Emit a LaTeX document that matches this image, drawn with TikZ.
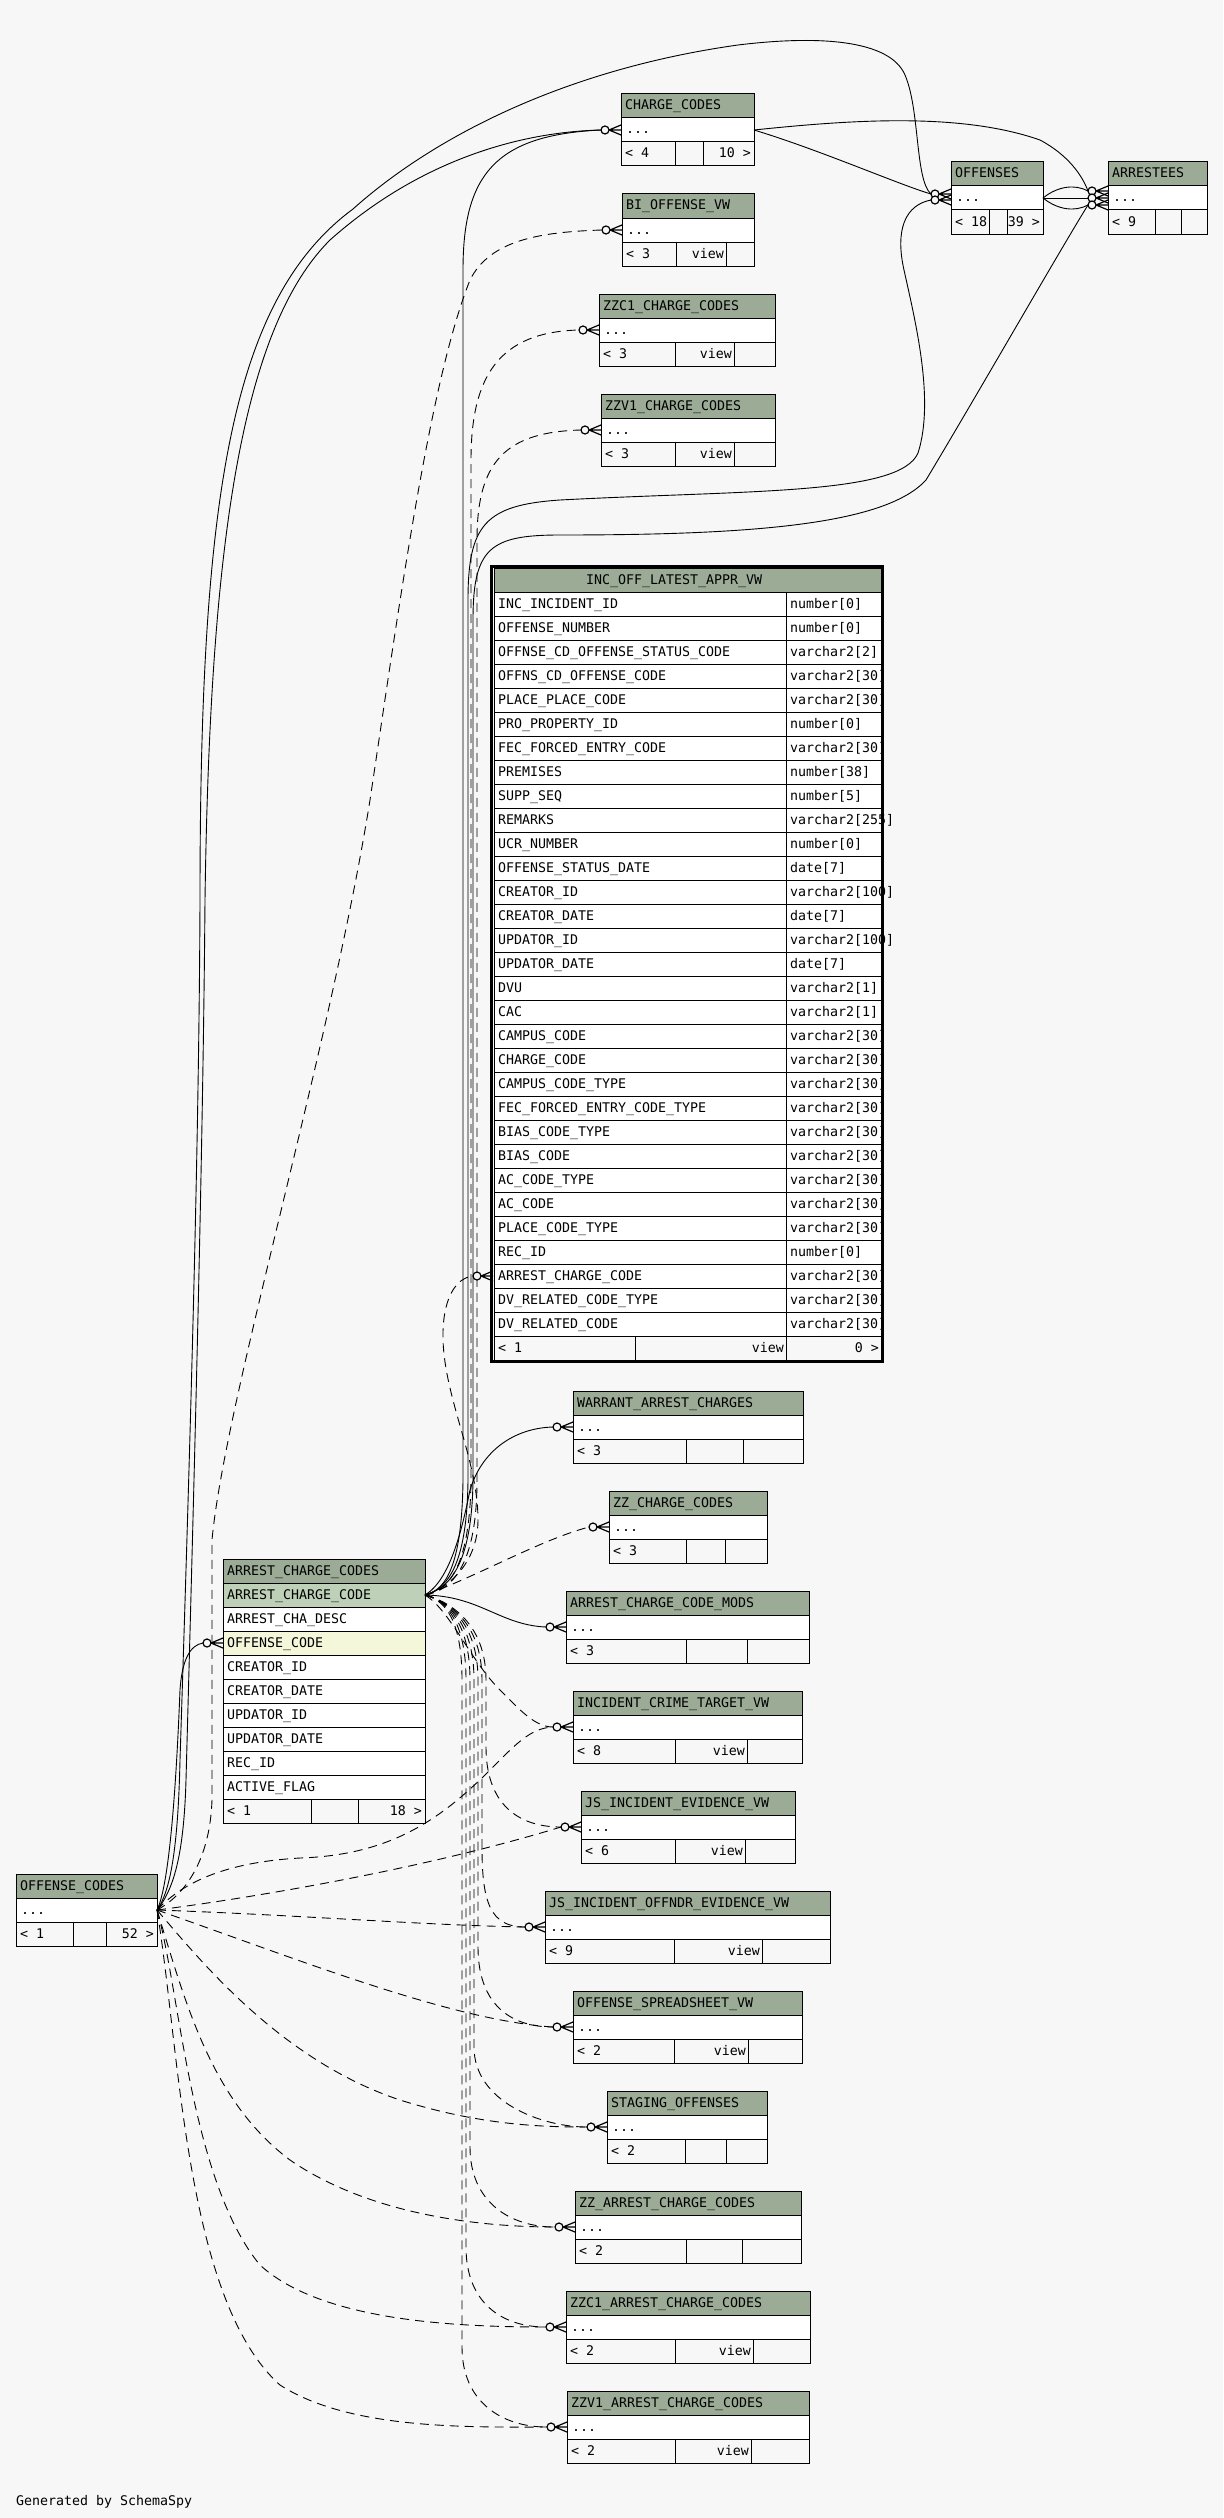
\documentclass[tikz,border=0pt]{standalone}
\usepackage{fontspec}
\newfontfamily\monof{DejaVu Sans Mono}
\definecolor{hdrc}{HTML}{9BAB96}
\definecolor{pkc}{HTML}{BED1B8}
\definecolor{exc}{HTML}{F4F7DA}
\definecolor{bgc}{HTML}{F7F7F7}
% simple table: #1 x1, #2 y1, #3 x2, #4 title, #5 split1, #6 split2, #7 count, #8 mid text, #9 id
\newcommand\stbl[9]{%
  \fill[hdrc] (#1,#2) rectangle (#3,#2+24);
  \fill[white] (#1,#2+24) rectangle (#3,#2+48);
  \fill[bgc] (#1,#2+48) rectangle (#3,#2+72);
  \draw[tb] (#1,#2) rectangle (#3,#2+72);
  \draw[tb] (#1,#2+24) -- (#3,#2+24) (#1,#2+48) -- (#3,#2+48)
            (#5,#2+48) -- (#5,#2+72) (#6,#2+48) -- (#6,#2+72);
  \node[tx] (#9-h) at (#1+4,#2+16) {#4};
  \node[tx] (#9-b) at (#1+5,#2+40) {...};
  \node[tx] (#9-f) at (#1+4,#2+64) {< #7};
  \node[txr] (#9-v) at (#6-2,#2+64) {#8};
}
% crow's foot with circle ending at table edge x=#1, y=#2
\newcommand\crowm[2]{%
  \draw[mk] (#1-12,#2) -- (#1,#2-5) (#1-12,#2) -- (#1,#2) (#1-12,#2) -- (#1,#2+5);
  \draw[mk,fill=bgc] (#1-16,#2) circle[radius=4pt];
}
\begin{document}
\begin{tikzpicture}[x=1pt,y=-1pt,
  tb/.style={draw=black,line width=1pt},
  tx/.style={anchor=base west,inner sep=0pt,font={\monof\fontsize{13.29}{15}\selectfont}},
  txr/.style={tx,anchor=base east},
  rel/.style={draw=black,line width=0.9pt},
  irel/.style={rel,dash pattern=on 9pt off 6pt},
  mk/.style={draw=black,line width=1.2pt}]
\useasboundingbox (0,0) rectangle (1223,2518);
\fill[bgc] (0,0) rectangle (1223,2518);

% ---------- small tables ----------
\stbl{621}{94}{754}{CHARGE\_CODES}{675}{703}{4}{}{cc}
\node[txr] (cc-r) at (751,158) {10 >};
\stbl{622}{194}{754}{BI\_OFFENSE\_VW}{676}{726}{3}{view}{bi}
\stbl{599}{294}{775}{ZZC1\_CHARGE\_CODES}{675}{734}{3}{view}{zc1}
\stbl{601}{394}{775}{ZZV1\_CHARGE\_CODES}{675}{734}{3}{view}{zv1}
\stbl{951}{162}{1043}{OFFENSES}{989}{1007}{18}{}{off}
\node[txr] (off-r) at (1040,226) {39 >};
\stbl{1108}{162}{1207}{ARRESTEES}{1155}{1181}{9}{}{arr}
\stbl{573}{1391}{803}{WARRANT\_ARREST\_CHARGES}{686}{743}{3}{}{war}
\stbl{609}{1491}{767}{ZZ\_CHARGE\_CODES}{686}{725}{3}{}{zzc}
\stbl{566}{1591}{809}{ARREST\_CHARGE\_CODE\_MODS}{686}{747}{3}{}{mod}
\stbl{573}{1691}{802}{INCIDENT\_CRIME\_TARGET\_VW}{675}{747}{8}{view}{ict}
\stbl{581}{1791}{795}{JS\_INCIDENT\_EVIDENCE\_VW}{675}{745}{6}{view}{jse}
\stbl{545}{1891}{830}{JS\_INCIDENT\_OFFNDR\_EVIDENCE\_VW}{674}{762}{9}{view}{jso}
\stbl{573}{1991}{802}{OFFENSE\_SPREADSHEET\_VW}{674}{748}{2}{view}{osv}
\stbl{607}{2091}{767}{STAGING\_OFFENSES}{685}{726}{2}{}{stg}
\stbl{575}{2191}{801}{ZZ\_ARREST\_CHARGE\_CODES}{686}{742}{2}{}{zza}
\stbl{566}{2291}{810}{ZZC1\_ARREST\_CHARGE\_CODES}{675}{753}{2}{view}{zca}
\stbl{567}{2391}{809}{ZZV1\_ARREST\_CHARGE\_CODES}{675}{751}{2}{view}{zva}
\stbl{16}{1874}{157}{OFFENSE\_CODES}{73}{106}{1}{}{oc}
\node[txr] (oc-r) at (154,1938) {52 >};

% ---------- ARREST_CHARGE_CODES ----------
\fill[hdrc] (223,1559) rectangle (425,1583);
\fill[pkc] (223,1583) rectangle (425,1607);
\fill[white] (223,1607) rectangle (425,1631);
\fill[exc] (223,1631) rectangle (425,1655);
\fill[white] (223,1655) rectangle (425,1799);
\fill[bgc] (223,1799) rectangle (425,1823);
\draw[tb] (223,1559) rectangle (425,1823);
\foreach \k in {1,...,10} \draw[tb] (223,1559+24*\k) -- (425,1559+24*\k);
\draw[tb] (311,1799) -- (311,1823) (358,1799) -- (358,1823);
\node[tx] (acc-h) at (227,1575) {ARREST\_CHARGE\_CODES};
\foreach \nm [count=\i from 0] in {ARREST\_CHARGE\_CODE,ARREST\_CHA\_DESC,OFFENSE\_CODE,CREATOR\_ID,CREATOR\_DATE,UPDATOR\_ID,UPDATOR\_DATE,REC\_ID,ACTIVE\_FLAG}
  \node[tx] (acc-c\i) at (227,1599+24*\i) {\nm};
\node[tx] (acc-f) at (227,1815) {< 1};
\node[txr] (acc-r) at (422,1815) {18 >};

% ---------- INC_OFF_LATEST_APPR_VW ----------
\fill[hdrc] (494,568) rectangle (881,592);
\fill[white] (494,592) rectangle (881,1336);
\fill[bgc] (494,1336) rectangle (881,1360);
\foreach \k in {1,...,32} \draw[tb] (494,568+24*\k) -- (881,568+24*\k);
\draw[tb] (786,592) -- (786,1360) (635,1336) -- (635,1360);
\draw[tb] (494,568) rectangle (881,1360);
\draw[draw=black,line width=3pt] (491.5,566.5) rectangle (882.5,1361.5);
\node[tx] (inc-h) at (586,584) {INC\_OFF\_LATEST\_APPR\_VW};
\foreach \nm/\ty [count=\i from 0] in {
  INC\_INCIDENT\_ID/{number[0]},
  OFFENSE\_NUMBER/{number[0]},
  OFFNSE\_CD\_OFFENSE\_STATUS\_CODE/{varchar2[2]},
  OFFNS\_CD\_OFFENSE\_CODE/{varchar2[30]},
  PLACE\_PLACE\_CODE/{varchar2[30]},
  PRO\_PROPERTY\_ID/{number[0]},
  FEC\_FORCED\_ENTRY\_CODE/{varchar2[30]},
  PREMISES/{number[38]},
  SUPP\_SEQ/{number[5]},
  REMARKS/{varchar2[255]},
  UCR\_NUMBER/{number[0]},
  OFFENSE\_STATUS\_DATE/{date[7]},
  CREATOR\_ID/{varchar2[100]},
  CREATOR\_DATE/{date[7]},
  UPDATOR\_ID/{varchar2[100]},
  UPDATOR\_DATE/{date[7]},
  DVU/{varchar2[1]},
  CAC/{varchar2[1]},
  CAMPUS\_CODE/{varchar2[30]},
  CHARGE\_CODE/{varchar2[30]},
  CAMPUS\_CODE\_TYPE/{varchar2[30]},
  FEC\_FORCED\_ENTRY\_CODE\_TYPE/{varchar2[30]},
  BIAS\_CODE\_TYPE/{varchar2[30]},
  BIAS\_CODE/{varchar2[30]},
  AC\_CODE\_TYPE/{varchar2[30]},
  AC\_CODE/{varchar2[30]},
  PLACE\_CODE\_TYPE/{varchar2[30]},
  REC\_ID/{number[0]},
  ARREST\_CHARGE\_CODE/{varchar2[30]},
  DV\_RELATED\_CODE\_TYPE/{varchar2[30]},
  DV\_RELATED\_CODE/{varchar2[30]}} {
  \node[tx] (inc-n\i) at (498,608+24*\i) {\nm};
  \node[tx] (inc-t\i) at (790,608+24*\i) {\ty};
}
\node[tx] (inc-f) at (498,1352) {< 1};
\node[txr] (inc-v) at (784,1352) {view};
\node[txr] (inc-r) at (879,1352) {0 >};

\node[tx] (gen) at (16,2505) {Generated by SchemaSpy};

% ---------- connector end points ----------
\coordinate (accR) at (425,1595);
\coordinate (ocR) at (157,1910);
\coordinate (ccR) at (754,130);
\coordinate (offR) at (1043,198);
\coordinate (ccL) at (601,130);
\coordinate (biL) at (602,230);
\coordinate (zc1L) at (579,330);
\coordinate (zv1L) at (581,430);
\coordinate (offL1) at (931,194);
\coordinate (offL2) at (931,200);
\coordinate (arrL1) at (1088,191);
\coordinate (arrL2) at (1088,198);
\coordinate (arrL3) at (1088,205);
\coordinate (incL) at (473,1276);
\coordinate (warL) at (553,1427);
\coordinate (zzcL) at (589,1527);
\coordinate (modL) at (546,1627);
\coordinate (ictL) at (553,1727);
\coordinate (jseL) at (561,1827);
\coordinate (jsoL) at (525,1927);
\coordinate (osvL) at (553,2027);
\coordinate (stgL) at (587,2127);
\coordinate (zzaL) at (555,2227);
\coordinate (zcaL) at (546,2327);
\coordinate (zvaL) at (547,2427);
\coordinate (accL) at (203,1643);

% ---------- solid relationships ----------
\draw[rel] (accR) .. controls (448,1590) and (462,1560) .. (463,1480) -- (463,270) .. controls (463,175) and (495,135) .. (ccL);
\draw[rel] (ocR) .. controls (175,1888) and (184,1850) .. (186,1780) .. controls (195,1450) and (203,1150) .. (205,900) .. controls (210,550) and (240,330) .. (330,240) .. controls (420,160) and (520,132) .. (ccL);
\draw[rel] (ocR) .. controls (170,1892) and (178,1850) .. (180,1760) .. controls (190,1450) and (199,1150) .. (200,900) .. controls (200,500) and (230,300) .. (353,209) .. controls (430,140) and (560,70) .. (738,45) .. controls (820,35) and (890,40) .. (905,75) .. controls (920,110) and (915,180) .. (offL1);
\draw[rel] (ccR) .. controls (820,150) and (900,185) .. (offL1);
\draw[rel] (ccR) .. controls (850,120) and (960,112) .. (1040,140) .. controls (1068,155) and (1082,175) .. (arrL1);
\draw[rel] (accR) .. controls (450,1588) and (467,1560) .. (468,1480) -- (468,600) .. controls (468,525) and (485,505) .. (560,500) .. controls (750,490) and (900,495) .. (918,453) .. controls (935,400) and (915,320) .. (904,270) .. controls (895,230) and (905,205) .. (offL2);
\draw[rel] (accR) .. controls (452,1588) and (472,1560) .. (473,1480) -- (473,620) .. controls (473,548) and (490,535) .. (560,535) .. controls (750,535) and (885,525) .. (926,480) .. controls (980,390) and (1060,250) .. (arrL3);
\draw[rel] (offR) -- (arrL2);
\draw[rel] (offR) .. controls (1058,186) and (1075,184) .. (arrL1);
\draw[rel] (offR) .. controls (1058,210) and (1075,212) .. (arrL3);
\draw[rel] (accR) .. controls (450,1580) and (462,1530) .. (470,1490) .. controls (482,1450) and (515,1428) .. (warL);
\draw[rel] (accR) .. controls (480,1596) and (500,1625) .. (modL);
\draw[rel] (ocR) .. controls (172,1880) and (178,1740) .. (180,1690) .. controls (182,1660) and (190,1645) .. (accL);

% ---------- implied (dashed) relationships ----------
\draw[irel] (accR) .. controls (452,1590) and (470,1560) .. (471,1480) -- (471,460) .. controls (471,375) and (500,332) .. (zc1L);
\draw[irel] (accR) .. controls (455,1590) and (477,1560) .. (477,1480) -- (477,540) .. controls (477,462) and (505,432) .. (zv1L);
\draw[irel] (ocR) .. controls (185,1895) and (210,1860) .. (212,1800) -- (212,1540) .. controls (225,1400) and (330,1050) .. (370,800) .. controls (400,600) and (430,380) .. (470,280) .. controls (490,240) and (540,232) .. (biL);
\draw[irel] (accR) .. controls (445,1590) and (478,1565) .. (478,1520) .. controls (478,1460) and (445,1400) .. (443,1340) .. controls (442,1300) and (455,1278) .. (incL);
\draw[irel] (accR) .. controls (480,1575) and (540,1540) .. (zzcL);
\draw[irel] (accR) .. controls (450,1610) and (470,1660) .. (500,1690) .. controls (520,1710) and (535,1727) .. (ictL);
\draw[irel] (accR) .. controls (445,1600) and (486,1620) .. (486,1680) -- (486,1747) .. controls (486,1802) and (516,1827) .. (jseL);
\draw[irel] (accR) .. controls (445,1600) and (482,1620) .. (482,1680) -- (482,1847) .. controls (482,1902) and (490,1927) .. (jsoL);
\draw[irel] (accR) .. controls (445,1600) and (478,1620) .. (478,1680) -- (478,1947) .. controls (478,2002) and (508,2027) .. (osvL);
\draw[irel] (accR) .. controls (445,1600) and (474,1620) .. (474,1680) -- (474,2047) .. controls (474,2102) and (542,2127) .. (stgL);
\draw[irel] (accR) .. controls (445,1600) and (470,1620) .. (470,1680) -- (470,2147) .. controls (470,2202) and (510,2227) .. (zzaL);
\draw[irel] (accR) .. controls (445,1600) and (466,1620) .. (466,1680) -- (466,2247) .. controls (466,2302) and (501,2327) .. (zcaL);
\draw[irel] (accR) .. controls (445,1600) and (462,1620) .. (462,1680) -- (462,2347) .. controls (462,2402) and (502,2427) .. (zvaL);
\draw[irel] (ocR) .. controls (185,1880) and (230,1862) .. (300,1858) .. controls (390,1855) and (440,1820) .. (490,1770) .. controls (515,1745) and (530,1728) .. (ictL);
\draw[irel] (ocR) .. controls (250,1898) and (420,1870) .. (jseL);
\draw[irel] (ocR) .. controls (300,1915) and (420,1925) .. (jsoL);
\draw[irel] (ocR) .. controls (300,1960) and (450,2020) .. (osvL);
\draw[irel] (ocR) .. controls (200,1960) and (280,2060) .. (400,2100) .. controls (480,2125) and (540,2127) .. (stgL);
\draw[irel] (ocR) .. controls (185,2000) and (210,2100) .. (290,2160) .. controls (370,2215) and (480,2227) .. (zzaL);
\draw[irel] (ocR) .. controls (180,1990) and (190,2180) .. (260,2265) .. controls (320,2320) and (450,2327) .. (zcaL);
\draw[irel] (ocR) .. controls (180,2050) and (185,2300) .. (280,2385) .. controls (350,2430) and (470,2427) .. (zvaL);

% ---------- markers ----------
\crowm{621}{130}
\crowm{622}{230}
\crowm{599}{330}
\crowm{601}{430}
\crowm{951}{194}
\crowm{951}{200}
\crowm{1108}{191}
\crowm{1108}{198}
\crowm{1108}{205}
\crowm{493}{1276}
\crowm{573}{1427}
\crowm{609}{1527}
\crowm{566}{1627}
\crowm{573}{1727}
\crowm{581}{1827}
\crowm{545}{1927}
\crowm{573}{2027}
\crowm{607}{2127}
\crowm{575}{2227}
\crowm{566}{2327}
\crowm{567}{2427}
\crowm{223}{1643}
\end{tikzpicture}
\end{document}
